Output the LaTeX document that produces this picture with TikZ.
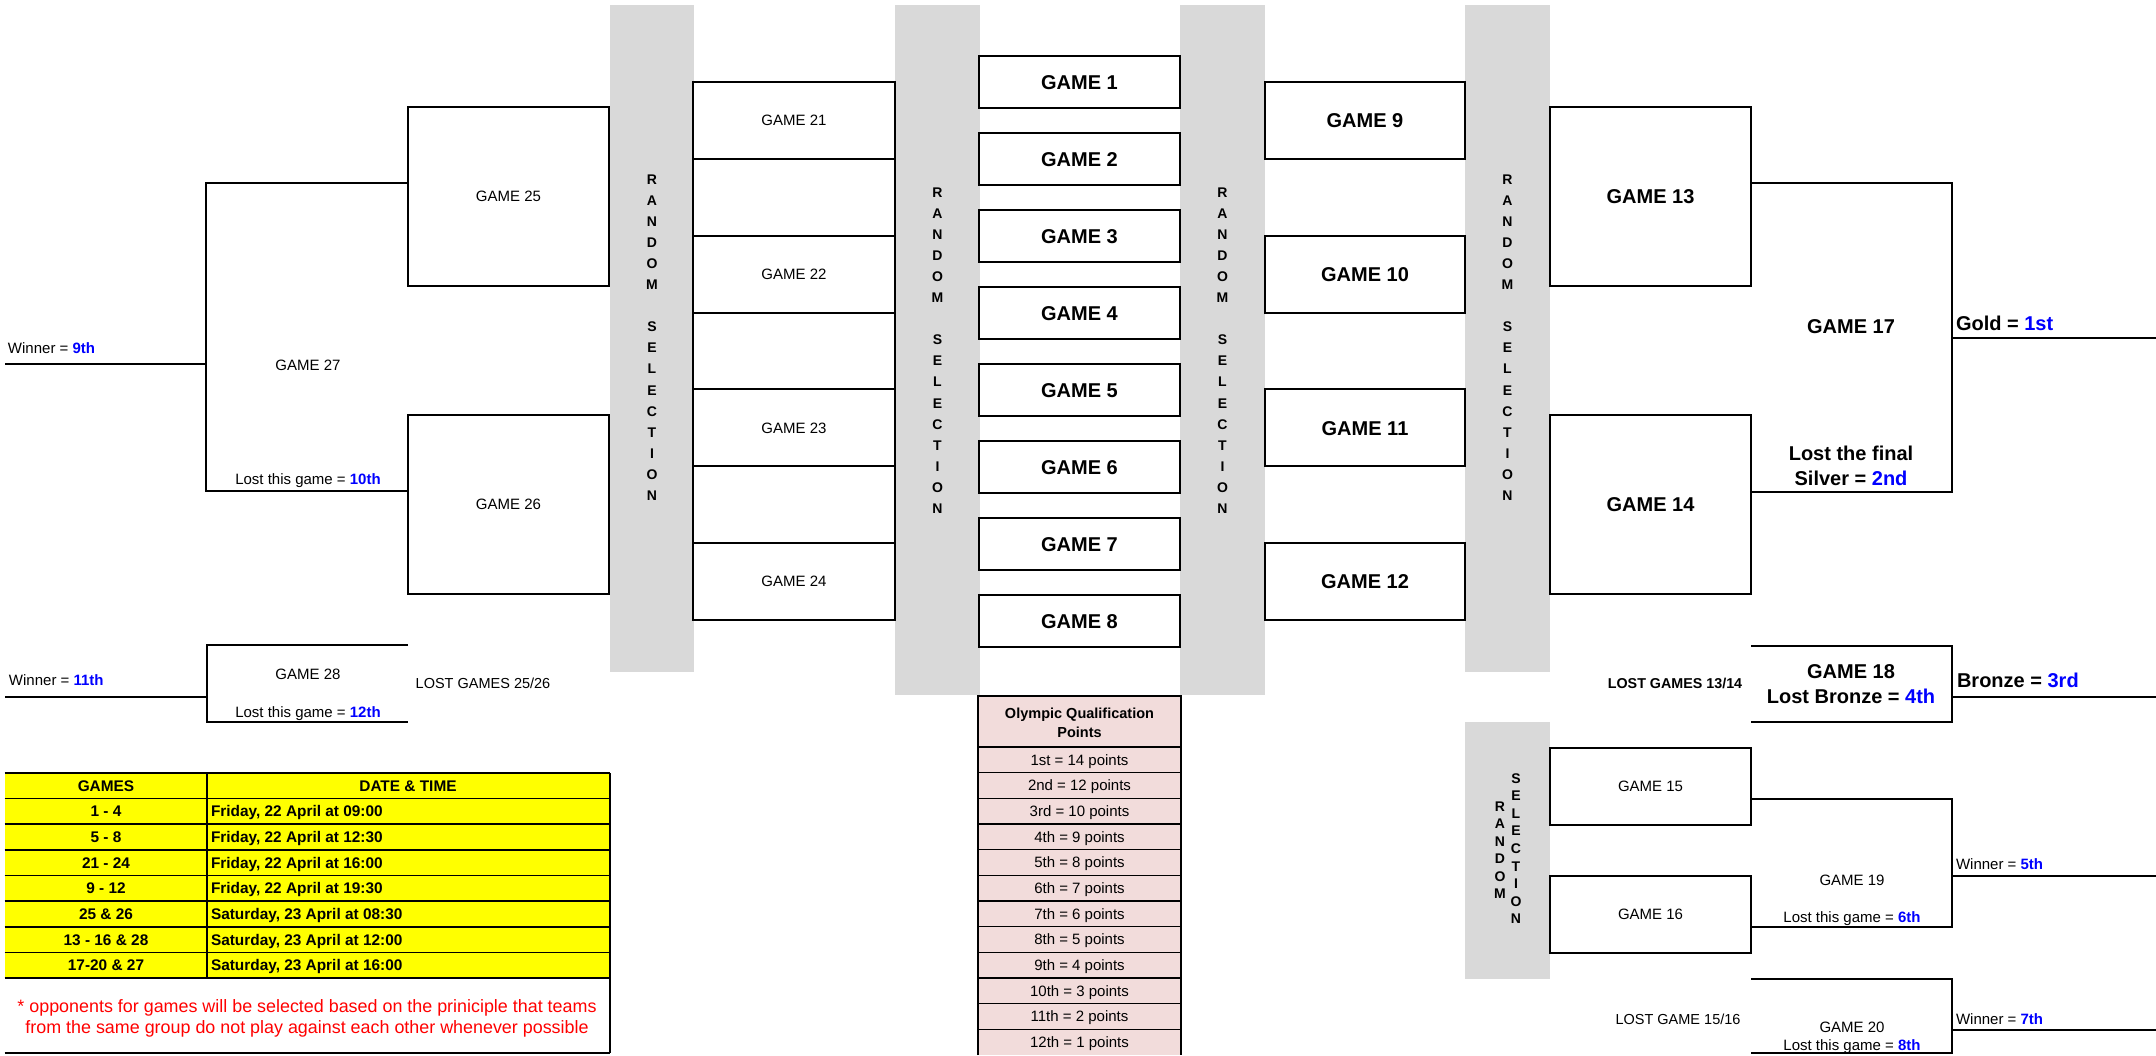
\documentclass[tikz,border=0pt]{standalone}
\usepackage{fontspec}
\setmainfont{Liberation Sans}
\usetikzlibrary{fit}
\definecolor{bandgray}{HTML}{D9D9D9}
\definecolor{pinkfill}{HTML}{F2DCDB}
\definecolor{rankblue}{HTML}{0000FF}
\definecolor{notered}{HTML}{FF0000}
\definecolor{schedyellow}{HTML}{FFFF00}
\newcommand\rk[1]{\textcolor{rankblue}{\bfseries #1}}
\begin{document}
\begin{tikzpicture}[x=0.5pt,y=-0.5pt,line width=1pt,
  band/.style={fill=bandgray,draw=none,inner sep=0pt,outer sep=0pt},
  gamebox/.style={draw,inner sep=0pt,outer sep=0pt,line width=1pt},
  lbl/.style={inner sep=0pt,outer sep=0pt},
  regtxt/.style={lbl,font=\fontsize{7.5}{9}\selectfont,text height=5.37pt,text depth=0pt},
  bigtxt/.style={lbl,font=\fontsize{10}{12}\selectfont\bfseries,text height=7.16pt,text depth=0pt},
  sel/.style={lbl,font=\fontsize{7}{8}\selectfont\bfseries,text height=5pt,text depth=0pt},
  lostreg/.style={lbl,font=\fontsize{7.25}{9}\selectfont,text height=5.2pt,text depth=0pt},
  lostbold/.style={lbl,font=\fontsize{7.15}{9}\selectfont\bfseries,text height=5.1pt,text depth=0pt},
  tabtxt/.style={lbl,font=\fontsize{7.7}{9}\selectfont\bfseries,text height=5.5pt,text depth=0pt},
  olyhead/.style={lbl,font=\fontsize{7.25}{9}\selectfont\bfseries,text height=5.2pt,text depth=0pt},
  olytxt/.style={lbl,font=\fontsize{7.5}{9}\selectfont,text height=5.37pt,text depth=0pt},
  notetxt/.style={lbl,font=\fontsize{8.95}{11}\selectfont,text=notered,text height=6.4pt,text depth=0pt}
]
\useasboundingbox (0,0) rectangle (2156,1055);

% gray random-selection bands
\node[band,fit={(610,5) (694,672)}] (bandA) {};
\node[band,fit={(895,5) (980,695)}] (bandB) {};
\node[band,fit={(1180,5) (1265,695)}] (bandC) {};
\node[band,fit={(1465,5) (1550,672)}] (bandD) {};
\node[band,fit={(1465,722) (1550,979)}] (bandE) {};

\foreach \bx/\by/\bn in {652/179/A,937.5/192/B,1222.5/192/C,1507.5/179/D}{
  \foreach \l/\k in {R/0,A/1,N/2,D/3,O/4,M/5,S/7,E/8,L/9,E/10,C/11,T/12,I/13,O/14,N/15}
    \node[sel] (s\bn\k) at (\bx,{\by+21.1*\k}) {\l};
}
\foreach \l/\k in {R/0,A/1,N/2,D/3,O/4,M/5}
  \node[sel] (sEr\k) at (1500,{806+17.5*\k}) {\l};
\foreach \l/\k in {S/0,E/1,L/2,E/3,C/4,T/5,I/6,O/7,N/8}
  \node[sel] (sEs\k) at (1516,{778+17.6*\k}) {\l};

% left boxes
\node[gamebox,fit={(408,107) (609,286)}] (g25) {};
\node[regtxt] (g25t) at (g25.center) {GAME 25};
\node[gamebox,fit={(408,415) (609,594)}] (g26) {};
\node[regtxt] (g26t) at (g26.center) {GAME 26};

% column of games 21-24
\node[gamebox,fit={(693,82) (895,158.9)}] (g21) {};
\node[regtxt] (g21t) at (g21.center) {GAME 21};
\node[gamebox,fit={(693,158.9) (895,235.7)}] (e1) {};
\node[gamebox,fit={(693,235.7) (895,312.6)}] (g22) {};
\node[regtxt] (g22t) at (g22.center) {GAME 22};
\node[gamebox,fit={(693,312.6) (895,389.4)}] (e2) {};
\node[gamebox,fit={(693,389.4) (895,466.3)}] (g23) {};
\node[regtxt] (g23t) at (g23.center) {GAME 23};
\node[gamebox,fit={(693,466.3) (895,543.1)}] (e3) {};
\node[gamebox,fit={(693,543.1) (895,620)}] (g24) {};
\node[regtxt] (g24t) at (g24.center) {GAME 24};

% games 1-8
\foreach \i in {1,...,8}{
  \node[gamebox,fit={(979,{56+77*(\i-1)}) (1180,{108+77*(\i-1)})}] (g\i) {};
  \node[bigtxt] (g\i t) at (g\i.center) {GAME \i};
}

% games 9-12
\foreach \i/\t in {9/82,10/235.7,11/389.4,12/543.1}{
  \node[gamebox,fit={(1265,\t) (1465,{\t+76.9})}] (g\i) {};
  \node[bigtxt] (g\i t) at (g\i.center) {GAME \i};
}

% games 13-16
\node[gamebox,fit={(1550,107) (1751,286)}] (g13) {};
\node[bigtxt] (g13t) at (g13.center) {GAME 13};
\node[gamebox,fit={(1550,415) (1751,594)}] (g14) {};
\node[bigtxt] (g14t) at (g14.center) {GAME 14};
\node[gamebox,fit={(1550,748) (1751,825)}] (g15) {};
\node[regtxt] (g15t) at (g15.center) {GAME 15};
\node[gamebox,fit={(1550,876) (1751,953)}] (g16) {};
\node[regtxt] (g16t) at (g16.center) {GAME 16};

% GAME 27 bracket
\coordinate (b27t) at (206,183);
\coordinate (b27b) at (206,491);
\coordinate (w9end) at (5,364);
\draw (g25.west |- b27t) -- (b27t) -- (b27b) -- (g26.west |- b27b);
\draw (w9end) -- (b27t |- w9end);
\node[regtxt,anchor=west] (w9) at (8,348) {Winner = \rk{9th}};
\node[regtxt] (t27) at (308,365) {GAME 27};
\node[regtxt] (l10) at (308,479) {Lost this game = \rk{10th}};

% GAME 28 bracket
\coordinate (b28a) at (408,645);
\coordinate (b28b) at (207,645);
\coordinate (b28c) at (207,722);
\coordinate (b28d) at (408,722);
\coordinate (w11end) at (5,697);
\draw (b28a) -- (b28b) -- (b28c) -- (b28d);
\draw (w11end) -- (b28b |- w11end);
\node[regtxt,anchor=west] (w11) at (9,680) {Winner = \rk{11th}};
\node[regtxt] (t28) at (308,674) {GAME 28};
\node[regtxt] (l12) at (308,712) {Lost this game = \rk{12th}};
\node[lostreg] (lost2526) at (483,683) {LOST GAMES 25/26};

% GAME 17 bracket
\coordinate (b17t) at (1952,183);
\coordinate (b17b) at (1952,492);
\coordinate (goldend) at (2156,338);
\draw (g13.east |- b17t) -- (b17t) -- (b17b) -- (g14.east |- b17b);
\draw (b17t |- goldend) -- (goldend);
\node[bigtxt] (t17) at (1851,326) {GAME 17};
\node[bigtxt] (lf1) at (1851,453) {Lost the final};
\node[bigtxt] (lf2) at (1851,478) {Silver = \rk{2nd}};
\node[bigtxt,anchor=west] (gold) at (1956,323) {Gold = \rk{1st}};

% GAME 18 bracket
\coordinate (b18a) at (1751,646);
\coordinate (b18b) at (1952,646);
\coordinate (b18c) at (1952,722);
\coordinate (b18d) at (1751,722);
\coordinate (bronzeend) at (2156,697);
\draw (b18a) -- (b18b) -- (b18c) -- (b18d);
\draw (b18b |- bronzeend) -- (bronzeend);
\node[bigtxt] (t18) at (1851,671) {GAME 18};
\node[bigtxt] (l18) at (1851,696) {Lost Bronze = \rk{4th}};
\node[bigtxt,anchor=west] (bronze) at (1957,680) {Bronze = \rk{3rd}};
\node[lostbold] (lost1314) at (1675,683) {LOST GAMES 13/14};

% GAME 19 bracket
\coordinate (b19t) at (1952,799);
\coordinate (b19b) at (1952,927);
\coordinate (w5end) at (2156,876);
\draw (g15.east |- b19t) -- (b19t) -- (b19b) -- (g16.east |- b19b);
\draw (b19t |- w5end) -- (w5end);
\node[regtxt] (t19) at (1852,880) {GAME 19};
\node[regtxt] (l6) at (1852,917) {Lost this game = \rk{6th}};
\node[regtxt,anchor=west] (w5) at (1956,864) {Winner = \rk{5th}};

% GAME 20 bracket
\coordinate (b20a) at (1751,979);
\coordinate (b20b) at (1952,979);
\coordinate (b20c) at (1952,1053);
\coordinate (b20d) at (1751,1053);
\coordinate (w7end) at (2156,1030);
\draw (b20a) -- (b20b) -- (b20c) -- (b20d);
\draw (b20b |- w7end) -- (w7end);
\node[regtxt] (t20) at (1852,1027) {GAME 20};
\node[regtxt] (l8) at (1852,1045) {Lost this game = \rk{8th}};
\node[regtxt,anchor=west] (w7) at (1956,1019) {Winner = \rk{7th}};
\node[lostreg] (lost1516) at (1678,1019) {LOST GAME 15/16};

% schedule table
\fill[schedyellow] (4.5,773) rectangle (610,978);
\foreach \k in {1,...,7}
  \draw[line width=0.85pt] (4.5,{773+25.625*\k}) -- (610,{773+25.625*\k});
\draw[line width=1.4pt] (4.5,773) -- (610,773);
\draw[line width=1.4pt] (4.5,978) -- (610,978);
\draw[line width=1.3pt] (207,773) -- (207,978);
\draw[line width=1.4pt] (610,773) -- (610,1053);
\draw[line width=1pt] (4.5,1053) -- (610,1053);
\node[tabtxt] (hgames) at (106,785.8) {GAMES};
\node[tabtxt] (hdate) at (408,785.8) {DATE \& TIME};
\foreach \g/\d [count=\k] in {{1 - 4}/{Friday, 22 April at 09:00},{5 - 8}/{Friday, 22 April at 12:30},{21 - 24}/{Friday, 22 April at 16:00},{9 - 12}/{Friday, 22 April at 19:30},{25 \& 26}/{Saturday, 23 April at 08:30},{13 - 16 \& 28}/{Saturday, 23 April at 12:00},{17-20 \& 27}/{Saturday, 23 April at 16:00}}{
  \node[tabtxt] (sg\k) at (106,{785.8+25.625*\k}) {\g};
  \node[tabtxt,anchor=west] (sd\k) at (211,{785.8+25.625*\k}) {\d};
}
\node[notetxt] (note1) at (307,1006) {* opponents for games will be selected based on the priniciple that teams};
\node[notetxt] (note2) at (307,1027) {from the same group do not play against each other whenever possible};

% Olympic qualification points table
\fill[pinkfill] (978,696) rectangle (1181,1055);
\foreach \k in {1,...,11}
  \draw[line width=0.7pt] (978,{747+25.67*\k}) -- (1181,{747+25.67*\k});
\draw[line width=1.3pt] (978,1055) -- (978,696) -- (1181,696) -- (1181,1055);
\draw[line width=1.3pt] (978,747) -- (1181,747);
\node[olyhead] (oh1) at (1079.5,713) {Olympic Qualification};
\node[olyhead] (oh2) at (1079.5,732) {Points};
\foreach \p [count=\k] in {1st = 14 points,2nd = 12 points,3rd = 10 points,4th = 9 points,5th = 8 points,6th = 7 points,7th = 6 points,8th = 5 points,9th = 4 points,10th = 3 points,11th = 2 points,12th = 1 points}
  \node[olytxt] (op\k) at (1079.5,{747+25.67*(\k-0.5)}) {\p};
\end{tikzpicture}
\end{document}
